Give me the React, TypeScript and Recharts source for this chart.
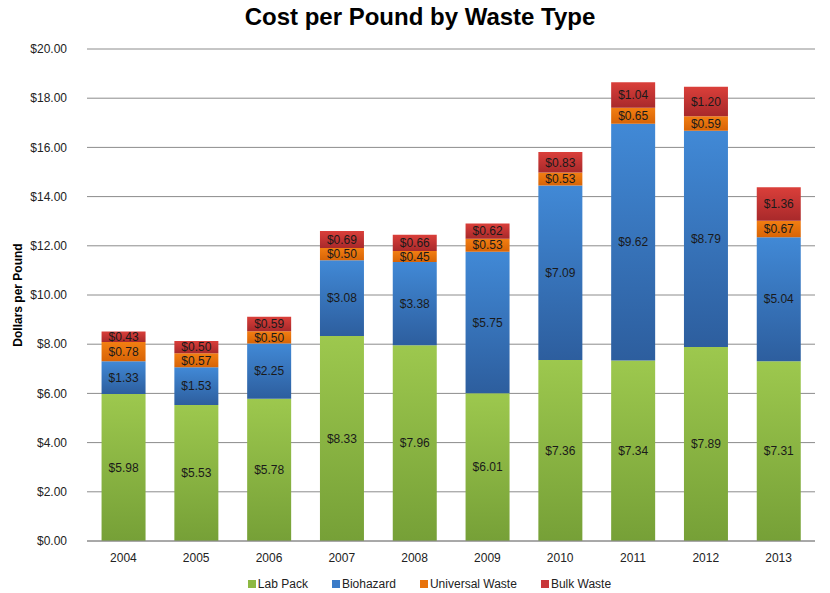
import React from "react";
import {
  BarChart, Bar, XAxis, YAxis, CartesianGrid, Legend, LabelList,
} from "recharts";

const years = ["2004", "2005", "2006", "2007", "2008", "2009", "2010", "2011", "2012", "2013"];
const labPack = [5.98, 5.53, 5.78, 8.33, 7.96, 6.01, 7.36, 7.34, 7.89, 7.31];
const biohazard = [1.33, 1.53, 2.25, 3.08, 3.38, 5.75, 7.09, 9.62, 8.79, 5.04];
const universalWaste = [0.78, 0.57, 0.5, 0.5, 0.45, 0.53, 0.53, 0.65, 0.59, 0.67];
const bulkWaste = [0.43, 0.5, 0.59, 0.69, 0.66, 0.62, 0.83, 1.04, 1.2, 1.36];
const yTicks = [0, 2, 4, 6, 8, 10, 12, 14, 16, 18, 20];

const data = years.map((y, i) => ({
  year: y,
  lab: labPack[i],
  bio: biohazard[i],
  uni: universalWaste[i],
  bulk: bulkWaste[i],
}));

const series = [
  { key: "lab", name: "Lab Pack", top: "#9DC84E", bottom: "#76A037", legend: "#8DB843" },
  { key: "bio", name: "Biohazard", top: "#4189D6", bottom: "#2D5E9E", legend: "#3A7BC8" },
  { key: "uni", name: "Universal Waste", top: "#F27E12", bottom: "#D86406", legend: "#E8720C" },
  { key: "bulk", name: "Bulk Waste", top: "#DA3F3A", bottom: "#A8292B", legend: "#C8373A" },
];

const money = (v: any) => `$${Number(v).toFixed(2)}`;

// legend drawn by hand so order and swatch colours match the original
const LegendBox = () => (
  <div style={{ display: "flex", justifyContent: "center", gap: 24, fontSize: 12, color: "#222", paddingLeft: 44, marginTop: 6 }}>
    {series.map((s) => (
      <span key={s.key} style={{ display: "flex", alignItems: "center" }}>
        <span style={{ width: 8, height: 8, background: s.legend, marginRight: 2, display: "inline-block" }} />
        {s.name}
      </span>
    ))}
  </div>
);

export default function App() {
  return (
    <div style={{ position: "absolute", left: 0, top: 0, width: 830, height: 593, background: "#fff", fontFamily: "'Liberation Sans', Arial, sans-serif" }}>
      <div style={{ position: "absolute", left: 0, top: 3, width: 840, textAlign: "center", fontSize: 24, fontWeight: "bold", color: "#000" }}>
        Cost per Pound by Waste Type
      </div>
      <BarChart
        width={830}
        height={593}
        data={data}
        margin={{ top: 49, right: 15, bottom: 0, left: 0 }}
        barCategoryGap="20%"
      >
        <defs>
          {series.map((s) => (
            <linearGradient key={s.key} id={`g-${s.key}`} x1="0" y1="0" x2="0" y2="1">
              <stop offset="0%" stopColor={s.top} />
              <stop offset="100%" stopColor={s.bottom} />
            </linearGradient>
          ))}
        </defs>
        <CartesianGrid vertical={false} stroke="#8c8c8c" />
        <XAxis
          dataKey="year"
          stroke="#8c8c8c"
          tickLine={false}
          height={30}
          tick={{ fill: "#222", fontSize: 12 }}
          tickMargin={6}
        />
        <YAxis
          width={87}
          domain={[0, 20]}
          ticks={yTicks}
          tickFormatter={money}
          axisLine={false}
          tickLine={false}
          tick={{ fill: "#222", fontSize: 12 }}
          tickMargin={14}
          label={{ value: "Dollars per Pound", angle: -90, position: "insideLeft", offset: 18, style: { fontSize: 12, fontWeight: "bold", fill: "#000", textAnchor: "middle" } }}
        />
        <Legend verticalAlign="bottom" height={22} content={<LegendBox />} />
        {series.map((s) => (
          <Bar key={s.key} dataKey={s.key} name={s.name} stackId="a" fill={`url(#g-${s.key})`} isAnimationActive={false}>
            <LabelList dataKey={s.key} position="center" formatter={money} style={{ fill: "#1a1a1a", fontSize: 12 }} />
          </Bar>
        ))}
      </BarChart>
    </div>
  );
}
